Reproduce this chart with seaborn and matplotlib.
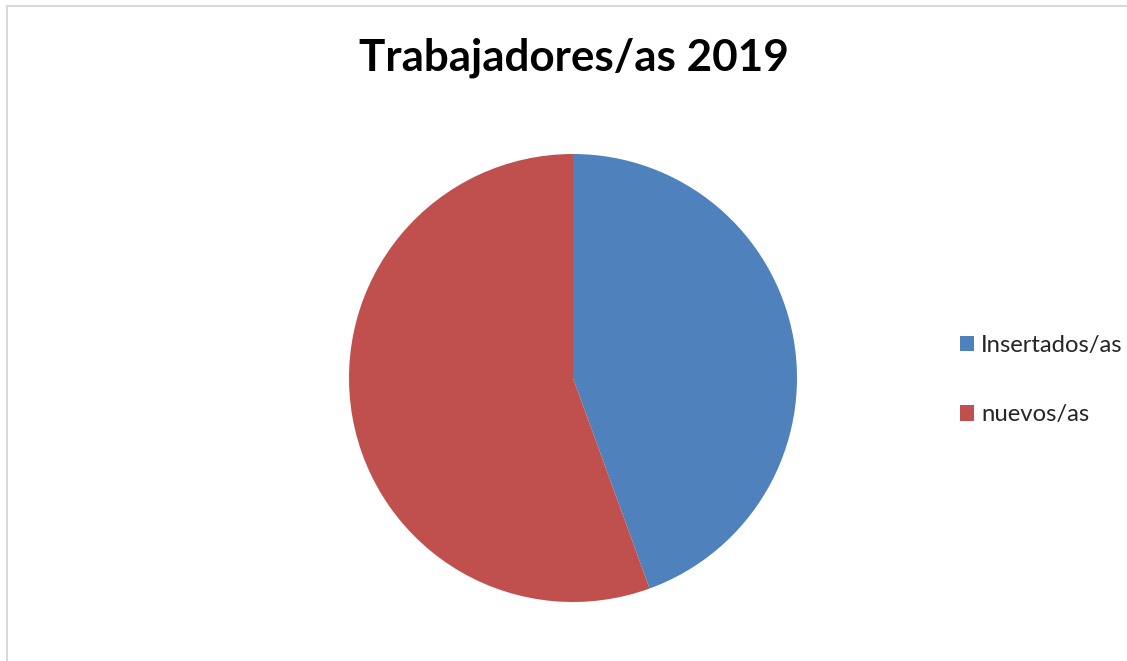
import matplotlib.pyplot as plt
import seaborn as sns
from matplotlib.lines import Line2D
from matplotlib.patches import Patch

sns.set_theme(style="white")
plt.rcParams["font.family"] = ["Lato", "DejaVu Sans"]

# Data
labels = ["Insertados/as", "nuevos/as"]
values = [4, 5]
colors = ["#4F81BD", "#C0504D"]
title = "Trabajadores/as 2019"

W, H = 1127, 661
fig = plt.figure(figsize=(W / 100, H / 100), dpi=100)
fig.patch.set_facecolor("white")

# pie axes: center (573, 378) px, radius 224 px
cx, cy, r = 573, 378, 224
ax = fig.add_axes([(cx - r) / W, (H - cy - r) / H, 2 * r / W, 2 * r / H])
ax.pie(values, colors=colors, startangle=90, counterclock=False,
       radius=1, wedgeprops=dict(linewidth=0))
ax.set_xlim(-1, 1)
ax.set_ylim(-1, 1)
ax.set_aspect("equal")
ax.axis("off")

fig.text(573.5 / W, 1 - 70 / H, title, ha="center", va="baseline",
         fontsize=31.7, fontweight="bold", color="black")

handles = [Patch(facecolor=c, edgecolor="none") for c in colors]
fig.legend(handles, labels, loc="center left",
           bbox_to_anchor=(950 / W, 1 - 380 / H), frameon=False,
           fontsize=17.2, handlelength=0.6, handleheight=0.6,
           handletextpad=0.3, labelspacing=2.05, borderaxespad=0)

# chart border (left and top visible)
fig.add_artist(Line2D([6.5 / W, 6.5 / W], [0, 1 - 6 / H], color="#d9d9d9", lw=1.5))
fig.add_artist(Line2D([6.5 / W, 1], [1 - 6 / H, 1 - 6 / H], color="#d9d9d9", lw=1.5))

fig.savefig("out.png", dpi=100)
